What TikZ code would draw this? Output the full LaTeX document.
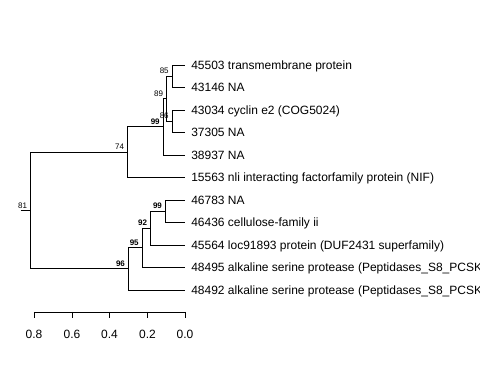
\documentclass[tikz,border=0pt]{standalone}
\usepackage{fontspec}
\setmainfont{Liberation Sans}
\usetikzlibrary{positioning}

\tikzset{
  branch/.style={draw=black, line width=0.7pt},
  leaf/.style={anchor=west, inner xsep=4.5pt, inner ysep=0pt,
    text height=8pt, text depth=1.6pt, font=\fontsize{9}{10}\selectfont},
  support/.style={inner sep=0pt, font=\fontsize{6}{7}\selectfont},
  strong/.style={support, font=\fontsize{6}{7}\selectfont\bfseries},
  scalelabel/.style={anchor=base, inner sep=0pt, font=\fontsize{9}{10}\selectfont}
}

\begin{document}
\begin{tikzpicture}[x=0.75pt, y=-0.75pt]
  \useasboundingbox (0,0) rectangle (480,384);
  \clip (0,0) rectangle (480,384);

  % leaves
  \node[leaf] (t1) at (185,65) {45503 transmembrane protein};
  \node[leaf] (t2) at (185,87.5) {43146 NA};
  \node[leaf] (t3) at (185,110) {43034 cyclin e2 (COG5024)};
  \node[leaf] (t4) at (185,132.5) {37305 NA};
  \node[leaf] (t5) at (185,155) {38937 NA};
  \node[leaf] (t6) at (185,177.5) {15563 nli interacting factorfamily protein (NIF)};
  \node[leaf] (t7) at (185,200) {46783 NA};
  \node[leaf] (t8) at (185,222.5) {46436 cellulose-family ii};
  \node[leaf] (t9) at (185,245) {45564 loc91893 protein (DUF2431 superfamily)};
  \node[leaf] (t10) at (185,267.5) {48495 alkaline serine protease (Peptidases\_S8\_PCSK};
  \node[leaf] (t11) at (185,290) {48492 alkaline serine protease (Peptidases\_S8\_PCSK};

  % internal nodes
  \coordinate (n85) at (172.3,76.25);
  \coordinate (n86) at (172.3,121.25);
  \coordinate (n89) at (166.7,98.75);
  \coordinate (n99a) at (163.3,126.9);
  \coordinate (n74) at (127.7,152.2);
  \coordinate (n99b) at (165.5,211.25);
  \coordinate (n92) at (150.7,228.1);
  \coordinate (n95) at (142.3,247.8);
  \coordinate (n96) at (128.5,268.9);
  \coordinate (n81) at (30.7,210.5);
  \coordinate (stem) at (20.7,210.5);

  \path[branch]
    (n85) |- (t1.west)  (n85) |- (t2.west)
    (n86) |- (t3.west)  (n86) |- (t4.west)
    (n89) |- (n85)      (n89) |- (n86)
    (n99a) |- (n89)     (n99a) |- (t5.west)
    (n74) |- (n99a)     (n74) |- (t6.west)
    (n99b) |- (t7.west) (n99b) |- (t8.west)
    (n92) |- (n99b)     (n92) |- (t9.west)
    (n95) |- (n92)      (n95) |- (t10.west)
    (n96) |- (n95)      (n96) |- (t11.west)
    (n81) |- (n74)      (n81) |- (n96)
    (stem) -- (n81);

  % support values
  \node[support] (s85) [above left=1.5pt and 2.5pt of n85] {85};
  \node[support] (s89) [above left=1.5pt and 2.5pt of n89] {89};
  \node[support] (s86) [above left=1.5pt and 2.5pt of n86] {86};
  \node[strong] (s99a) [above left=1.5pt and 2.5pt of n99a] {99};
  \node[support] (s74) [above left=1.5pt and 2.5pt of n74] {74};
  \node[strong] (s99b) [above left=1.5pt and 2.5pt of n99b] {99};
  \node[strong] (s92) [above left=1.5pt and 2.5pt of n92] {92};
  \node[strong] (s95) [above left=1.5pt and 2.5pt of n95] {95};
  \node[strong] (s96) [above left=1.5pt and 2.5pt of n96] {96};
  \node[support] (s81) [above left=1.5pt and 2.5pt of n81] {81};

  % scale
  \coordinate (a8) at (34,312);
  \coordinate (a6) at (72,312);
  \coordinate (a4) at (109.5,312);
  \coordinate (a2) at (147.5,312);
  \coordinate (a0) at (185,312);
  \draw[branch] (a8) -- (a0);
  \draw[branch] (a8) -- ++(0,6.5);
  \draw[branch] (a6) -- ++(0,6.5);
  \draw[branch] (a4) -- ++(0,6.5);
  \draw[branch] (a2) -- ++(0,6.5);
  \draw[branch] (a0) -- ++(0,6.5);
  \node[scalelabel] (v8) at (34,338.3) {0.8};
  \node[scalelabel] (v6) at (72,338.3) {0.6};
  \node[scalelabel] (v4) at (109.5,338.3) {0.4};
  \node[scalelabel] (v2) at (147.5,338.3) {0.2};
  \node[scalelabel] (v0) at (185,338.3) {0.0};
\end{tikzpicture}
\end{document}
